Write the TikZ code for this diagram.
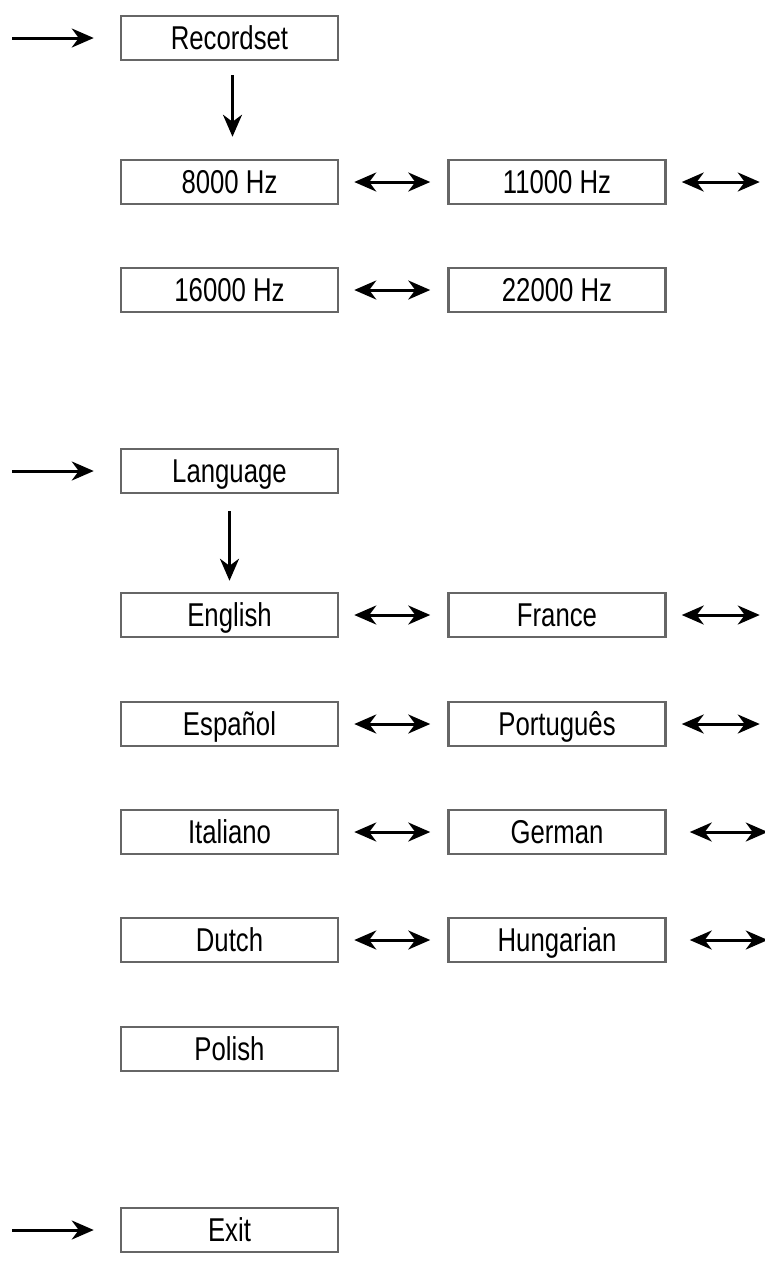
\documentclass[tikz,border=0pt]{standalone}
\usepackage{fontspec}
\setmainfont[FakeStretch=0.78]{Liberation Sans}
\usetikzlibrary{arrows.meta}
\begin{document}
\begin{tikzpicture}[x=1pt,y=-1pt,
  box/.style={draw=black!60,line width=2.5pt,minimum width=217pt,minimum height=44pt,inner sep=0pt,text height=26pt,text depth=4pt,font=\fontsize{33}{34}\selectfont,anchor=center},
  tip/.tip={Stealth[length=22pt,width=19pt,inset=7pt]},
  arr/.style={line width=3pt,-tip},
  darr/.style={line width=3pt,tip-tip}]
\useasboundingbox (0,0) rectangle (765,1262);
\def\L{229.5}\def\R{557}
\node[box] (rec) at (\L,38) {Recordset};
\node[box] (h8) at (\L,182) {8000 Hz};
\node[box] (h11) at (\R,182) {11000 Hz};
\node[box] (h16) at (\L,290) {16000 Hz};
\node[box] (h22) at (\R,290) {22000 Hz};
\node[box] (lang) at (\L,471) {Language};
\node[box] (en) at (\L,615) {English};
\node[box] (fr) at (\R,615) {France};
\node[box] (es) at (\L,724) {Español};
\node[box] (pt) at (\R,724) {Português};
\node[box] (it) at (\L,832) {Italiano};
\node[box] (de) at (\R,832) {German};
\node[box] (nl) at (\L,940) {Dutch};
\node[box] (hu) at (\R,940) {Hungarian};
\node[box] (pl) at (\L,1049) {Polish};
\node[box] (ex) at (\L,1230) {Exit};
\coordinate (a1) at (12,38); \coordinate (a2) at (12,471); \coordinate (a3) at (12,1230);
\draw[arr] (a1) -- ([xshift=-26pt]rec.west);
\draw[arr] (a2) -- ([xshift=-26pt]lang.west);
\draw[arr] (a3) -- ([xshift=-26pt]ex.west);
\draw[arr] ([xshift=3pt,yshift=-14pt]rec.south) -- ([xshift=3pt,yshift=22pt]h8.north);
\draw[arr] ([yshift=-17pt]lang.south) -- ([yshift=11pt]en.north);
\foreach \a/\b in {h8/h11,h16/h22,en/fr,es/pt,it/de,nl/hu}
  \draw[darr] ([xshift=15pt]\a.east) -- ([xshift=-17pt]\b.west);
\foreach \b/\s in {h11/15,fr/15,pt/15,de/23,hu/23}
  \coordinate (\b e) at ([xshift=\s pt+78pt]\b.east);
\foreach \b/\s in {h11/15,fr/15,pt/15,de/23,hu/23}
  \draw[darr] ([xshift=\s pt]\b.east) -- (\b e);
\end{tikzpicture}
\end{document}
